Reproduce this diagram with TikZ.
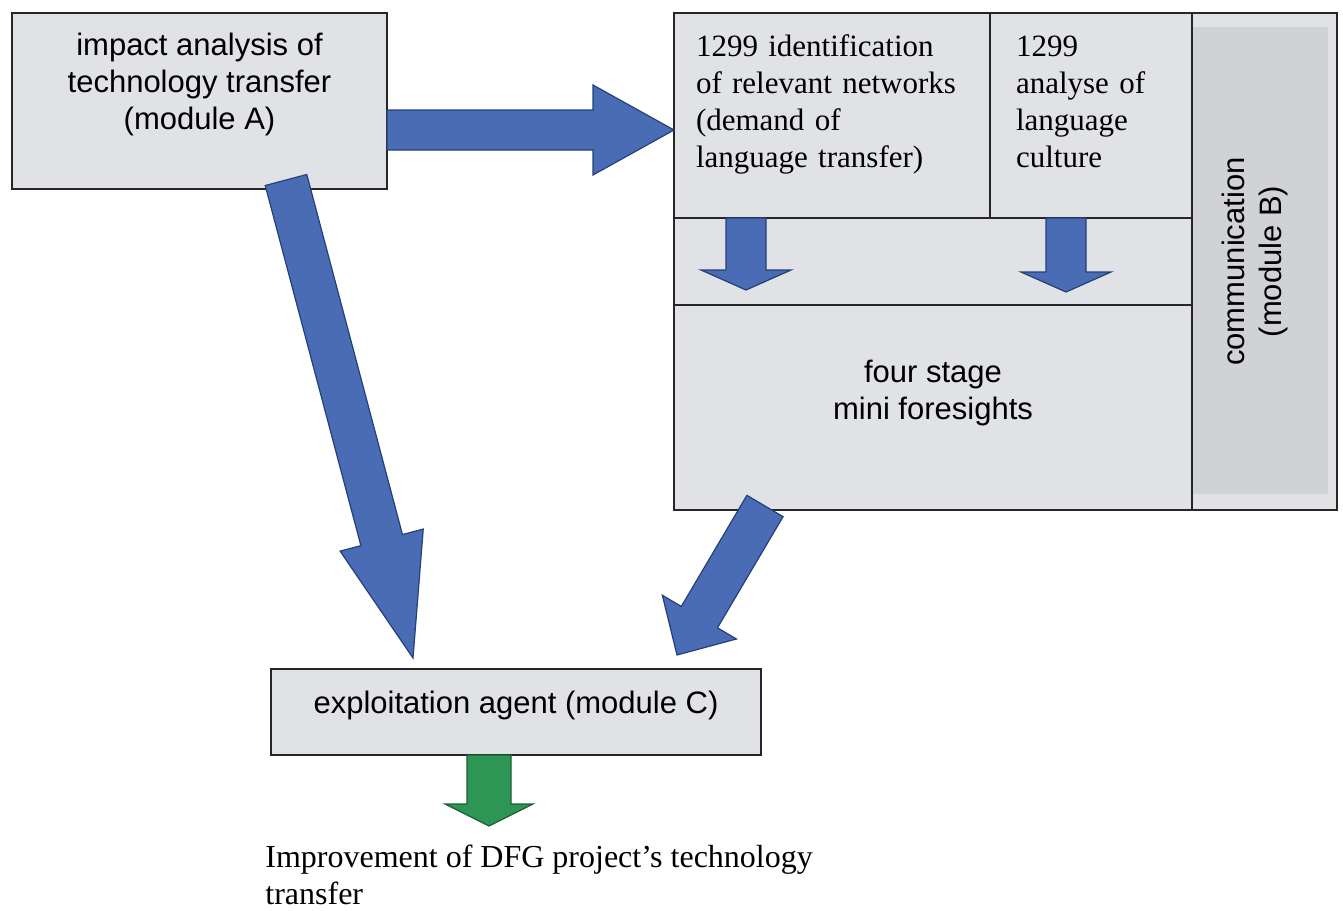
\documentclass[tikz,border=0pt]{standalone}
\usepackage{fontspec}
\setmainfont{Liberation Serif}
\setsansfont{Liberation Sans}
\usepackage{xcolor}
\usepackage{tikz}
\usetikzlibrary{arrows.meta, positioning, calc}
\hyphenpenalty=10000

\definecolor{boxgrey}{HTML}{E1E2E6}
\definecolor{commgrey}{HTML}{D0D2D6}
\definecolor{arrowblue}{HTML}{4A6CB4}
\definecolor{arrowedge}{HTML}{24407A}
\definecolor{arrowgreen}{HTML}{2E9655}
\definecolor{greenedge}{HTML}{1D5E36}

% block arrow: [style]{tail}{tip}{shaft half width}{head half width}{head length}
\newcommand{\blockarrow}[6][blockarrow]{%
  \coordinate (ba-head) at ($(#3)!#6!(#2)$);
  \path[#1] ($(#2)!#4!90:(#3)$) -- ($(ba-head)!#4!90:(#3)$) -- ($(ba-head)!#5!90:(#3)$)
    -- (#3) -- ($(ba-head)!#5!-90:(#3)$) -- ($(ba-head)!#4!-90:(#3)$) -- ($(#2)!#4!-90:(#3)$) -- cycle;
}

\begin{document}
\begin{tikzpicture}[x=0.5pt, y=-0.5pt,
    module/.style={rectangle, draw=black!85, line width=0.9pt, fill=boxgrey, align=center, inner sep=0pt, outer sep=0pt, font=\sffamily\fontsize{15.5pt}{18.5pt}\selectfont},
    cell/.style={rectangle, draw=black!85, line width=0.9pt, fill=boxgrey, align=left, inner ysep=0pt, outer sep=0pt, minimum height=102.5pt, text depth=69.5pt, font=\fontsize{15.5pt}{18.5pt}\selectfont},
    blockarrow/.style={fill=arrowblue, draw=arrowedge, line width=0.6pt, line join=miter},
    greenarrow/.style={fill=arrowgreen, draw=greenedge, line width=0.6pt, line join=miter},
    result/.style={align=left, inner sep=0pt, font=\fontsize{16pt}{18.5pt}\selectfont},
]
\useasboundingbox (0,0) rectangle (1343,910);

\node[module, minimum width=187.5pt, minimum height=88pt, text depth=20pt] (modA) at (199.5,101) {impact analysis of\\technology transfer\\(module A)};

\node[module, minimum width=331.5pt, minimum height=248.5pt] (modB) at (1005.5,261.5) {};
\fill[commgrey] ($(modB.north east)+(-144,14)$) rectangle ($(modB.south east)+(-9,-16)$);
\node[cell, anchor=north west, text width=136pt, inner xsep=11pt] (net) at (modB.north west) {1299 identification\\of relevant networks\\(demand of\\language transfer)};
\node[cell, anchor=north west, text width=75pt, inner xsep=13pt] (lang) at (net.north east) {1299\\analyse of\\language\\culture};
\node[module, fill=none, minimum width=248.5pt, minimum height=72.5pt, text depth=13pt, rotate=90, anchor=north east] (comm) at (lang.north east) {communication\\(module B)};
\node[module, anchor=south west, minimum width=259pt, minimum height=102.5pt, text depth=17.8pt] (fore) at (modB.south west) {four stage\\mini foresights};

\node[module, minimum width=245pt, minimum height=43pt, text depth=9.3pt] (modC) at (516,712) {exploitation agent (module C)};
\node[result, anchor=north west] (res) at ($(modC.south west)+(-6,90)$) {Improvement of DFG project’s technology\\transfer};

\coordinate (aTail) at ($(modA.east)+(0,29)$);
\coordinate (aTip) at (aTail -| net.west);
\blockarrow{aTail}{aTip}{10pt}{22.5pt}{40.5pt}

\coordinate (nTail) at ($(net.south)+(-86,0)$);
\coordinate (nTip) at ($(nTail |- fore.north)+(0,-15)$);
\blockarrow{nTail}{nTip}{10pt}{22.5pt}{10pt}
\coordinate (lTail) at ($(lang.south)+(-25,0)$);
\coordinate (lTip) at ($(lTail |- fore.north)+(0,-13)$);
\blockarrow{lTail}{lTip}{10pt}{22.5pt}{10pt}

\coordinate (cTail) at ($(modA.south)+(86.5,-9)$);
\coordinate (cTip) at ($(modC.north)+(-103,-11)$);
\blockarrow{cTail}{cTip}{10.75pt}{21.5pt}{61pt}

\coordinate (fTail) at ($(fore.south)+(-168,-4)$);
\coordinate (fTip) at ($(modC.north east)+(-84,-14)$);
\blockarrow{fTail}{fTip}{10.5pt}{21.5pt}{22pt}

\coordinate (gTail) at ($(modC.south)+(-27,0)$);
\coordinate (gTip) at ($(gTail)+(0,71)$);
\blockarrow[greenarrow]{gTail}{gTip}{11pt}{22pt}{11pt}
\end{tikzpicture}
\end{document}
